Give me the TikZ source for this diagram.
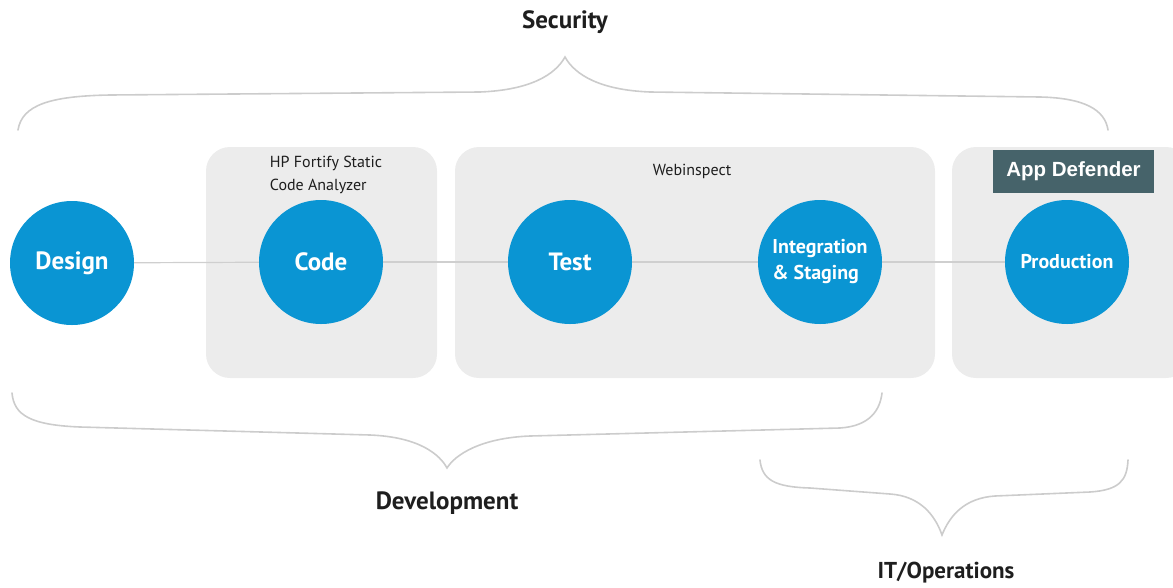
\documentclass[tikz,border=0pt]{standalone}
\usepackage{fontspec}
\setmainfont{PT Sans}
\newfontfamily\appfont{Liberation Sans}
\definecolor{panelgray}{HTML}{ECECEC}
\definecolor{hpblue}{HTML}{0A95D3}
\definecolor{linegray}{HTML}{CFCFCF}
\definecolor{bracegray}{HTML}{CCCCCC}
\definecolor{textdark}{HTML}{1E1E1E}
\definecolor{teal}{HTML}{46636A}
\begin{document}
\begin{tikzpicture}[x=1pt,y=-1pt,
  panel/.style={fill=panelgray, rounded corners=24pt},
  stage/.style={circle, fill=hpblue, minimum size=124pt, inner sep=0pt, text=white,
    font=\fontsize{25}{28}\selectfont\bfseries, align=center},
  stagesmall/.style={stage, font=\fontsize{20}{26}\selectfont\bfseries, align=left},
  link/.style={draw=linegray, line width=1.2pt},
  brace/.style={draw=bracegray, line width=1.6pt, line cap=round},
  tool/.style={font=\fontsize{16}{23}\selectfont, text=textdark, align=left},
  grouplabel/.style={font=\fontsize{25}{28}\selectfont\bfseries, text=textdark},
  badge/.style={fill=teal, text=white, minimum width=161pt, minimum height=43pt,
    inner sep=0pt, font=\appfont\fontsize{20.5}{22}\selectfont\bfseries}]
\useasboundingbox (0,0) rectangle (1173,587);
% panels
\path[panel] (206,147) rectangle (437,378);
\path[panel] (455,147) rectangle (935,378);
\path[panel] (952,147) rectangle (1190,378);
% tool labels
\node[tool] (fortify) at (326,175) {HP Fortify Static\\Code Analyzer};
\node[tool] (webinspect) at (692,171) {Webinspect};
\node[badge] (appdef) at (1073.5,171.5) {App Defender};
% stages
\node[stage] (design) at (72,263) {Design};
\node[stage] (code) at (321,262) {Code};
\node[stage] (test) at (570,262) {Test};
\node[stagesmall] (integ) at (820,262) {Integration\\\& Staging};
\node[stagesmall] (prod) at (1067,262) {Production};
% links
\draw[link] (design) -- (code);
\draw[link] (code) -- (test);
\draw[link] (test) -- (integ);
\draw[link] (integ) -- (prod);
% braces
\draw[brace] (18,130) .. controls (22,105) and (50,96) .. (110,95) -- (480,92)
  .. controls (530,90) and (555,75) .. (565,57)
  .. controls (575,75) and (600,90) .. (650,92) -- (1040,97)
  .. controls (1085,98) and (1105,110) .. (1108,130);
\draw[brace] (12,393) .. controls (14,415) and (30,425) .. (80,427) -- (370,435)
  .. controls (420,437) and (440,455) .. (447,468)
  .. controls (455,455) and (480,438) .. (530,436) -- (840,428)
  .. controls (870,426) and (880,410) .. (882,393);
\draw[brace] (760,460) .. controls (762,480) and (775,487) .. (810,488) -- (890,494)
  .. controls (920,496) and (935,515) .. (942,535)
  .. controls (950,515) and (965,498) .. (995,496) -- (1090,492)
  .. controls (1120,490) and (1127,480) .. (1128,460);
% group labels
\node[grouplabel] (security) at (565,22) {Security};
\node[grouplabel] (development) at (447,503) {Development};
\node[grouplabel, font=\fontsize{23}{26}\selectfont\bfseries] (itops) at (946,573) {IT/Operations};
\end{tikzpicture}
\end{document}
